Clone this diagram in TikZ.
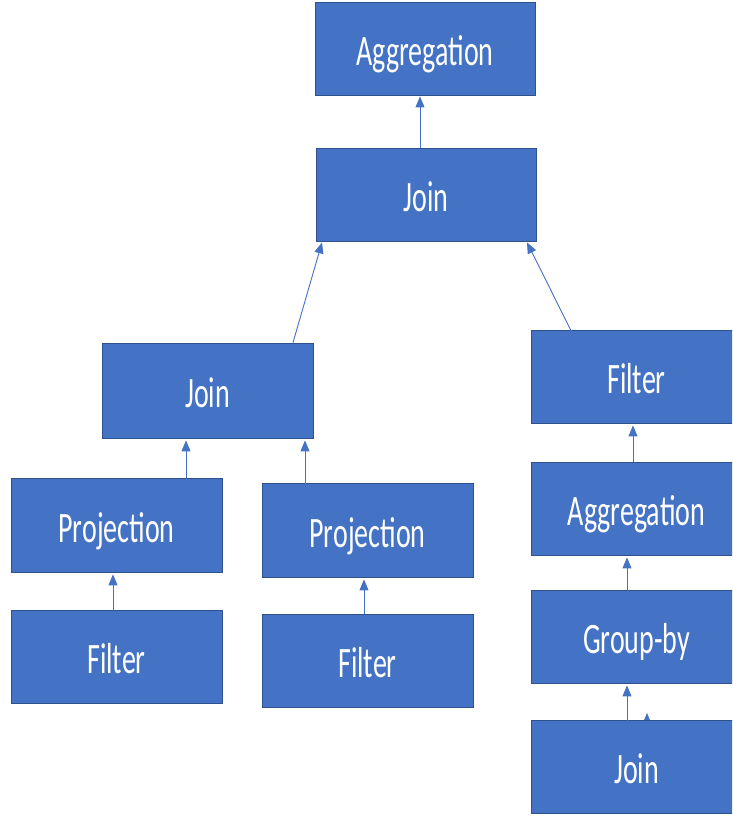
\documentclass[tikz,border=0pt]{standalone}
\usepackage{fontspec}
\setmainfont{Carlito}
\usetikzlibrary{arrows.meta}
\definecolor{opblue}{HTML}{4472C4}
\definecolor{opedge}{HTML}{2F528F}
\tikzset{
  opbox/.style={draw=opedge, line width=0.8pt, fill=opblue, text=white,
    inner sep=0pt, text height=34pt, text depth=0pt,
    font=\fontsize{28}{30}\selectfont},
  flow/.style={draw=opblue, line width=0.9pt, -{Triangle[length=11pt,width=9pt]}}
}
\newcommand{\lbl}[1]{\scalebox{1}[1.55]{#1}}
\begin{document}
\begin{tikzpicture}[x=1pt,y=-1pt]
\useasboundingbox (0,0) rectangle (732,819);
\fill[white] (0,0) rectangle (732,819);

% hidden second input of the lower join, only its tip shows above the box
\coordinate (hidA) at (647,760);
\coordinate (hidB) at (647,713);
\draw[flow] (hidA) -- (hidB);

% operator boxes
\node[opbox, minimum width=220, minimum height=93] (aggT) at (425,48.5) {\lbl{Aggregation}};
\node[opbox, minimum width=220, minimum height=93] (joinT) at (426,194.5) {\lbl{Join}};
\node[opbox, minimum width=211, minimum height=95] (joinL) at (207.5,390.5) {\lbl{Join}};
\node[opbox, minimum width=211, minimum height=94] (projL) at (116.5,525) {\lbl{Projection}};
\node[opbox, minimum width=211, minimum height=94] (projR) at (367.5,530) {\lbl{Projection}};
\node[opbox, minimum width=211, minimum height=93] (filtL) at (116.5,656.5) {\lbl{Filter}};
\node[opbox, minimum width=211, minimum height=93] (filtR) at (367.5,660.5) {\lbl{Filter}};
% right-hand chain runs past the page edge
\begin{scope}
\clip (0,0) rectangle (732,819);
\node[opbox, minimum width=211, minimum height=93] (filtRt) at (636.5,376.5) {\lbl{Filter}};
\node[opbox, minimum width=211, minimum height=93] (aggR) at (636.5,508.5) {\lbl{Aggregation}};
\node[opbox, minimum width=211, minimum height=93] (grp) at (636.5,636.5) {\lbl{Group-by}};
\node[opbox, minimum width=211, minimum height=93] (joinR) at (636.5,766.5) {\lbl{Join}};
\end{scope}

% data flow, bottom to top
\draw[flow] (joinT.north -| 420,0) -- ([yshift=-1pt]aggT.south -| 420,0);
\draw[flow] (joinL.north -| 293,0) -- ([yshift=-1pt]joinT.south -| 322,0);
\draw[flow] ([yshift=-3pt]filtRt.north -| 572,0) -- ([yshift=-1pt]joinT.south -| 527,0);
\draw[flow] ([yshift=-2pt]projL.north -| 186,0) -- ([yshift=-2pt]joinL.south -| 186,0);
\draw[flow] ([yshift=-8pt]projR.north -| 305,0) -- ([yshift=-2pt]joinL.south -| 305,0);
\draw[flow] (filtL.north -| 113,0) -- ([yshift=-2pt]projL.south -| 113,0);
\draw[flow] (filtR.north -| 364,0) -- ([yshift=-2pt]projR.south -| 364,0);
\draw[flow] (aggR.north -| 633,0) -- ([yshift=-2pt]filtRt.south -| 633,0);
\draw[flow] ([yshift=-2pt]grp.north -| 627,0) -- ([yshift=-2pt]aggR.south -| 627,0);
\draw[flow] ([yshift=-3pt]joinR.north -| 627,0) -- ([yshift=-2pt]grp.south -| 627,0);
\end{tikzpicture}
\end{document}
